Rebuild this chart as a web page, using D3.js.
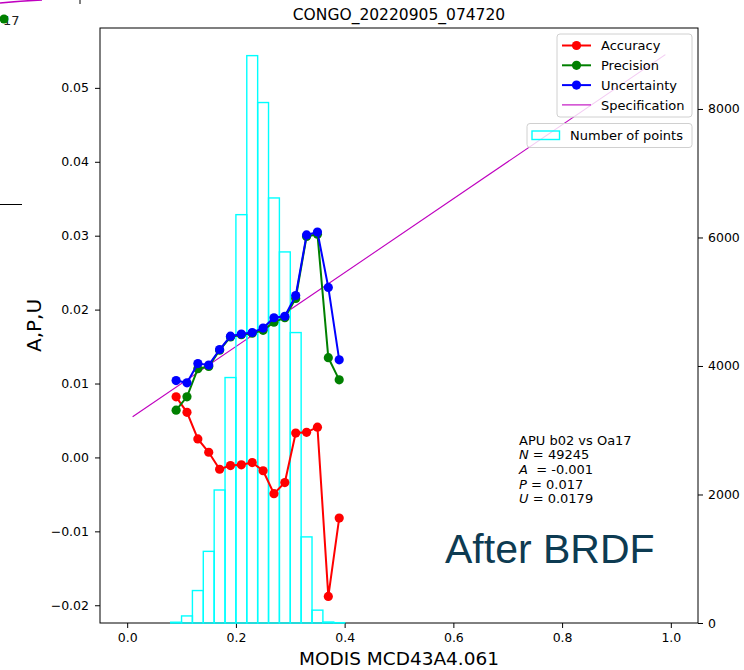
<!DOCTYPE html>
<meta charset="utf-8">
<style>
body { margin: 0; background: #fff; }
svg { display: block; font-family: "DejaVu Sans", sans-serif; }
</style>
<body>
<div id="chart"></div>
<script src="https://d3js.org/d3.v7.min.js"></script>
<script>

// histogram of number of points (bin left edges, width 0.02)
var binStart = [0.08, 0.10, 0.12, 0.14, 0.16, 0.18, 0.20, 0.22, 0.24, 0.26, 0.28, 0.30, 0.32, 0.34, 0.36, 0.38];
var binCount = [12, 110, 505, 1115, 2070, 3820, 6355, 8830, 8100, 6615, 5775, 4520, 1340, 200, 15, 5];
var binWidth = 0.02;

// A, P, U per bin centre
var xPts = [0.09, 0.11, 0.13, 0.15, 0.17, 0.19, 0.21, 0.23, 0.25, 0.27, 0.29, 0.31, 0.33, 0.35, 0.37, 0.39];
var accuracy = [0.0082, 0.0061, 0.0025, 0.0007, -0.0016, -0.0011, -0.0010, -0.0007, -0.0018, -0.0049, -0.0034, 0.0033, 0.0034, 0.0041, -0.0188, -0.0082];
var precision = [0.0064, 0.0082, 0.0120, 0.0123, 0.0145, 0.0163, 0.0166, 0.0168, 0.0172, 0.0183, 0.0189, 0.0215, 0.0299, 0.0302, 0.0135, 0.0105];
var uncertainty = [0.0104, 0.0101, 0.0127, 0.0125, 0.0146, 0.0164, 0.0167, 0.0169, 0.0175, 0.0189, 0.0191, 0.0219, 0.0301, 0.0305, 0.0230, 0.0132];

var specX = [0.01, 0.99];
var specY = [0.0055, 0.0545];

var xTicks = [0.0, 0.2, 0.4, 0.6, 0.8, 1.0];
var yTicks = [-0.02, -0.01, 0.00, 0.01, 0.02, 0.03, 0.04, 0.05];
var nTicks = [0, 2000, 4000, 6000, 8000];

var legendNames = ["Accuracy", "Precision", "Uncertainty", "Specification"];
var legendColors = ["#ff0000", "#008000", "#0000ff", "#bf00bf"];

var statKeys = ["", "N", "A", "P", "U"];
var statVals = ["APU b02 vs Oa17", " = 49245", "  = -0.001", " = 0.017", " = 0.0179"];

var W = 744, H = 670;
var margin = {top: 28, right: 46, bottom: 47, left: 100};

var svg = d3.select("#chart").append("svg")
    .attr("width", W)
    .attr("height", H);

var x = d3.scaleLinear().domain([-0.05, 1.05]).range([margin.left, W - margin.right]);
var yL = d3.scaleLinear().domain([-0.0224, 0.0581]).range([H - margin.bottom, margin.top]);
var yR = d3.scaleLinear().domain([0, 9260]).range([H - margin.bottom, margin.top]);

var minus = function(s){ return s.replace("-", "\u2212"); };

// bits of the neighbouring figure that leak into the screenshot
svg.append("path").attr("d", "M0,3 Q20,1 42,0").attr("fill", "none").attr("stroke", "#c000c0").attr("stroke-width", 1.5);
svg.append("line").attr("x1", 80).attr("x2", 80).attr("y1", 0).attr("y2", 4).attr("stroke", "#000");
svg.append("line").attr("x1", 0).attr("x2", 22).attr("y1", 204.5).attr("y2", 204.5).attr("stroke", "#000");
svg.append("text").attr("x", 3).attr("y", 25).attr("font-size", 13).attr("fill", "#222").text("17");
svg.append("circle").attr("cx", 4).attr("cy", 19).attr("r", 4.5).attr("fill", "#008000");

// title
svg.append("text").attr("x", (margin.left + W - margin.right) / 2).attr("y", 20)
  .attr("text-anchor", "middle").attr("font-size", 15.5).text("CONGO_20220905_074720");

// axes
var gx = svg.append("g").attr("transform", "translate(0," + (H - margin.bottom) + ")")
  .call(d3.axisBottom(x).tickValues(xTicks).tickFormat(d3.format(".1f")).tickSize(5).tickSizeOuter(0).tickPadding(5));
var gyl = svg.append("g").attr("transform", "translate(" + margin.left + ",0)")
  .call(d3.axisLeft(yL).tickValues(yTicks).tickFormat(function(d){ return minus(d3.format(".2f")(d)); }).tickSize(5).tickSizeOuter(0).tickPadding(6));
var gyr = svg.append("g").attr("transform", "translate(" + (W - margin.right) + ",0)")
  .call(d3.axisRight(yR).tickValues(nTicks).tickFormat(d3.format("d")).tickSize(5).tickSizeOuter(0).tickPadding(5));
[gx, gyl, gyr].forEach(function(g){
  g.select(".domain").remove();
  g.selectAll("text").attr("font-size", 12.5).attr("font-family", "DejaVu Sans").attr("fill", "#000");
  g.selectAll("line").attr("stroke", "#000");
});

// frame
svg.append("rect").attr("x", margin.left).attr("y", margin.top)
  .attr("width", W - margin.left - margin.right).attr("height", H - margin.top - margin.bottom)
  .attr("fill", "none").attr("stroke", "#000").attr("stroke-width", 1);

// axis labels
svg.append("text").attr("x", (margin.left + W - margin.right) / 2).attr("y", 665)
  .attr("text-anchor", "middle").attr("font-size", 18.5).text("MODIS MCD43A4.061");
svg.append("text").attr("transform", "translate(41," + ((margin.top + H - margin.bottom) / 2) + ") rotate(-90)")
  .attr("text-anchor", "middle").attr("font-size", 20).text("A,P,U");

// spec line
var line = d3.line().x(function(d){ return x(d[0]); }).y(function(d){ return yL(d[1]); });
svg.append("path").datum(d3.zip(specX, specY)).attr("d", line)
  .attr("fill", "none").attr("stroke", "#bf00bf").attr("stroke-width", 1.1);

// histogram
svg.append("g").selectAll("rect").data(d3.zip(binStart, binCount)).join("rect")
  .attr("x", function(d){ return x(d[0]); })
  .attr("width", function(d){ return x(d[0] + binWidth) - x(d[0]); })
  .attr("y", function(d){ return yR(d[1]); })
  .attr("height", function(d){ return yR(0) - yR(d[1]); })
  .attr("fill", "none").attr("stroke", "#00ffff").attr("stroke-width", 1.4);

// A, P, U series
var series = [accuracy, precision, uncertainty];
series.forEach(function(vals, i){
  var pts = d3.zip(xPts, vals);
  svg.append("path").datum(pts).attr("d", line)
    .attr("fill", "none").attr("stroke", legendColors[i]).attr("stroke-width", 2);
  svg.append("g").selectAll("circle").data(pts).join("circle")
    .attr("cx", function(d){ return x(d[0]); })
    .attr("cy", function(d){ return yL(d[1]); })
    .attr("r", 4.6).attr("fill", legendColors[i]);
});

// legend 1
var lg = svg.append("g");
lg.append("rect").attr("x", 557).attr("y", 34).attr("width", 135).attr("height", 83).attr("rx", 3)
  .attr("fill", "#fff").attr("fill-opacity", 0.8).attr("stroke", "#d0d0d0");
legendNames.forEach(function(name, i){
  var yy = 45.5 + i * 19.8;
  lg.append("line").attr("x1", 562).attr("x2", 591).attr("y1", yy).attr("y2", yy)
    .attr("stroke", legendColors[i]).attr("stroke-width", i < 3 ? 2 : 1.1);
  if (i < 3) lg.append("circle").attr("cx", 576.5).attr("cy", yy).attr("r", 4.6).attr("fill", legendColors[i]);
  lg.append("text").attr("x", 601).attr("y", yy).attr("dy", "0.36em").attr("font-size", 13).text(name);
});

// legend 2
var lg2 = svg.append("g");
lg2.append("rect").attr("x", 527).attr("y", 123.5).attr("width", 165).attr("height", 24).attr("rx", 3)
  .attr("fill", "#fff").attr("fill-opacity", 0.8).attr("stroke", "#d0d0d0");
lg2.append("rect").attr("x", 532).attr("y", 131).attr("width", 27.5).attr("height", 8.5)
  .attr("fill", "none").attr("stroke", "#00ffff").attr("stroke-width", 1.4);
lg2.append("text").attr("x", 570).attr("y", 135).attr("dy", "0.36em").attr("font-size", 13).text("Number of points");

// stats
var st = svg.append("g");
statVals.forEach(function(v, i){
  var t = st.append("text").attr("x", 519).attr("y", 440 + i * 14.7).attr("dy", "0.36em")
    .attr("font-size", 13).attr("fill", "#000").style("white-space", "pre");
  if (statKeys[i]) t.append("tspan").attr("font-style", "italic").text(statKeys[i]);
  t.append("tspan").text(v);
});

// big caption
svg.append("text").attr("x", 445).attr("y", 563).attr("font-family", "Liberation Sans, Arial, sans-serif")
  .attr("font-size", 41).attr("fill", "#0d3b52").text("After BRDF");

</script>
</body>
